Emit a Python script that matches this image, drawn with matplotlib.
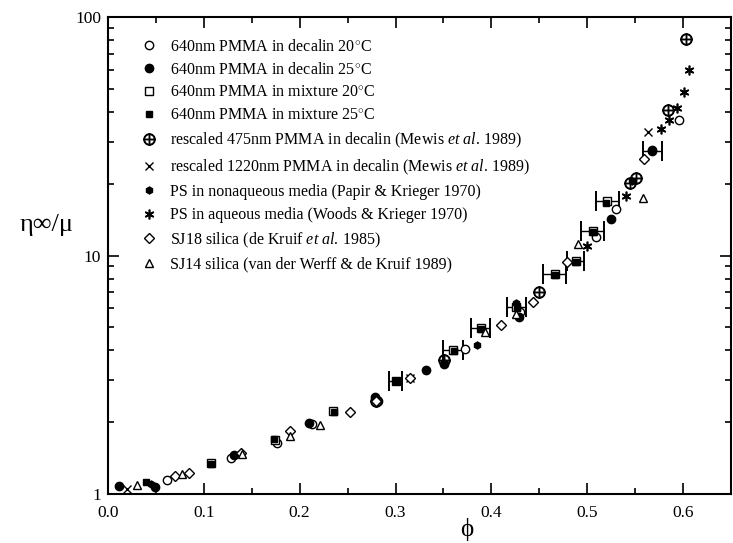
import matplotlib.pyplot as plt
import numpy as np
from matplotlib.ticker import LogLocator, NullFormatter, MultipleLocator

plt.rcParams['font.family'] = ['Liberation Serif', 'DejaVu Serif']
plt.rcParams['mathtext.fontset'] = 'custom'
plt.rcParams['mathtext.rm'] = 'Liberation Serif'
plt.rcParams['mathtext.it'] = 'Liberation Serif:italic'

# 640nm PMMA in decalin 20C (open circles)
dec20_phi = [0.062, 0.128, 0.176, 0.213, 0.282, 0.372, 0.430, 0.509, 0.530, 0.568, 0.596]
dec20_eta = [1.15, 1.42, 1.64, 1.97, 2.45, 4.05, 5.8, 11.9, 15.6, 27.4, 37.1]
dec20_err = [0, 0, 0, 0, 0, 0, 0, 0, 0, 0.010, 0]
# 640nm PMMA in decalin 25C (filled circles)
dec25_phi = [0.012, 0.049, 0.131, 0.210, 0.279, 0.332, 0.351, 0.429, 0.525, 0.568]
dec25_eta = [1.08, 1.07, 1.46, 1.99, 2.55, 3.32, 3.5, 5.53, 14.2, 27.8]
# 640nm PMMA in mixture 20C (open squares, error bars)
mix20_phi = [0.108, 0.174, 0.235, 0.300, 0.360, 0.389, 0.426, 0.466, 0.488, 0.506, 0.521]
mix20_eta = [1.35, 1.69, 2.22, 2.97, 4.02, 4.95, 6.09, 8.39, 9.52, 12.7, 16.9]
mix20_err = [0, 0, 0, 0.007, 0.010, 0.010, 0.010, 0.012, 0.009, 0.012, 0.012]
# 640nm PMMA in mixture 25C (filled squares)
mix25_phi = [0.040, 0.108, 0.173, 0.236, 0.300, 0.361, 0.389, 0.427, 0.466, 0.488, 0.506, 0.520]
mix25_eta = [1.12, 1.33, 1.70, 2.20, 2.97, 3.98, 4.9, 6.0, 8.3, 9.4, 12.5, 16.6]
# rescaled 475nm PMMA (Mewis et al.)
m475_phi = [0.280, 0.351, 0.450, 0.545, 0.551, 0.584, 0.603]
m475_eta = [2.45, 3.65, 7.03, 20.2, 21.1, 40.8, 80.7]
# rescaled 1220nm PMMA (Mewis et al.)
m1220_phi = [0.020, 0.315, 0.563]
m1220_eta = [1.05, 3.06, 32.9]
# PS nonaqueous (Papir & Krieger)
psn_phi = [0.045, 0.385, 0.426, 0.547]
psn_eta = [1.10, 4.2, 6.3, 20.5]
# PS aqueous (Woods & Krieger)
psa_phi = [0.500, 0.540, 0.577, 0.585, 0.594, 0.601, 0.606]
psa_eta = [11.0, 17.8, 33.8, 37.1, 41.7, 48.3, 59.9]
# SJ18 silica (de Kruif et al.)
sj18_phi = [0.070, 0.085, 0.139, 0.190, 0.252, 0.280, 0.315, 0.410, 0.443, 0.479, 0.559]
sj18_eta = [1.19, 1.23, 1.48, 1.83, 2.20, 2.45, 3.06, 5.11, 6.38, 9.39, 25.3]
# SJ14 silica (van der Werff & de Kruif)
sj14_phi = [0.030, 0.077, 0.140, 0.190, 0.221, 0.393, 0.426, 0.490, 0.558]
sj14_eta = [1.09, 1.21, 1.47, 1.75, 1.94, 4.8, 5.7, 11.2, 17.5]


def with_err(phi, eta, err):
    keep = [i for i, e in enumerate(err) if e > 0]
    return [phi[i] for i in keep], [eta[i] for i in keep], [err[i] for i in keep]


fig = plt.figure(figsize=(7.33, 5.43), dpi=100)
ax = fig.add_axes([0.1473, 0.0902, 0.85, 0.8785])

ms = 6
for phi, eta, err in [with_err(mix20_phi, mix20_eta, mix20_err),
                      with_err(dec20_phi, dec20_eta, dec20_err)]:
    ax.errorbar(phi, eta, xerr=err, fmt='none', ecolor='k',
                elinewidth=1, capsize=7, capthick=1.4)

ax.plot(dec20_phi, dec20_eta, 'o', mfc='white', mec='k', ms=ms, mew=1,
        label='640nm PMMA in decalin 20$^{\\circ}$C')
ax.plot(dec25_phi, dec25_eta, 'o', mfc='k', mec='k', ms=ms,
        label='640nm PMMA in decalin 25$^{\\circ}$C')
ax.plot(mix20_phi, mix20_eta, 's', mfc='white', mec='k', ms=ms, mew=1,
        label='640nm PMMA in mixture 20$^{\\circ}$C')
ax.plot(mix25_phi, mix25_eta, 's', mfc='k', mec='k', ms=ms - 1,
        label='640nm PMMA in mixture 25$^{\\circ}$C')
ax.plot(m475_phi, m475_eta, marker='$\\oplus$', ls='none', color='k', ms=ms + 2,
        label='rescaled 475nm PMMA in decalin (Mewis $\\it{et\\ al.}\\,$1989)')
ax.plot(m1220_phi, m1220_eta, 'x', color='k', ms=ms, mew=1,
        label='rescaled 1220nm PMMA in decalin (Mewis $\\it{et\\ al.}\\,$1989)')
ax.plot(psn_phi, psn_eta, 'h', color='k', ms=ms - 1,
        label='PS in nonaqueous media (Papir & Krieger 1970)')
ax.plot(psa_phi, psa_eta, marker=(6, 2, 0), ls='none', color='k', ms=ms + 1, mew=1.2,
        label='PS in aqueous media (Woods & Krieger 1970)')
ax.plot(sj18_phi, sj18_eta, 'D', mfc='white', mec='k', ms=ms - 1, mew=1,
        label='SJ18 silica (de Kruif $\\it{et\\ al.}\\,$1985)')
ax.plot(sj14_phi, sj14_eta, '^', mfc='white', mec='k', ms=ms, mew=1,
        label='SJ14 silica (van der Werff & de Kruif 1989)')

ax.set_yscale('log')
ax.set_xlim(0.0, 0.65)
ax.set_ylim(1, 100)
ax.set_xticks(np.arange(0, 0.61, 0.1))
ax.set_xticklabels(['0.0', '0.1', '0.2', '0.3', '0.4', '0.5', '0.6'])
ax.xaxis.set_minor_locator(MultipleLocator(0.05))
ax.set_yticks([1, 10, 100])
ax.set_yticklabels(['1', '10', '100'])
ax.yaxis.set_minor_locator(LogLocator(subs=np.arange(2, 10)))
ax.yaxis.set_minor_formatter(NullFormatter())
ax.tick_params(which='both', direction='in', top=True, right=True, labelsize=12.5, width=1.2)
ax.tick_params(which='major', length=8)
ax.tick_params(which='minor', length=4)
ax.tick_params(axis='x', pad=8)
ax.tick_params(axis='y', pad=5)
for s in ax.spines.values():
    s.set_linewidth(1.5)

ax.set_ylabel('η∞/μ', rotation=0, fontsize=19, va='center', ha='center')
ax.yaxis.set_label_coords(-0.098, 0.564)
ax.set_xlabel('ϕ', fontsize=18, va='center')
ax.xaxis.set_label_coords(0.576, -0.075)

ax.legend(loc='upper left', bbox_to_anchor=(0.03, 0.985), frameon=False, numpoints=1,
          fontsize=11.5, handlelength=1.0, handletextpad=0.8, labelspacing=0.45)

fig.savefig('out.png', dpi=100)
